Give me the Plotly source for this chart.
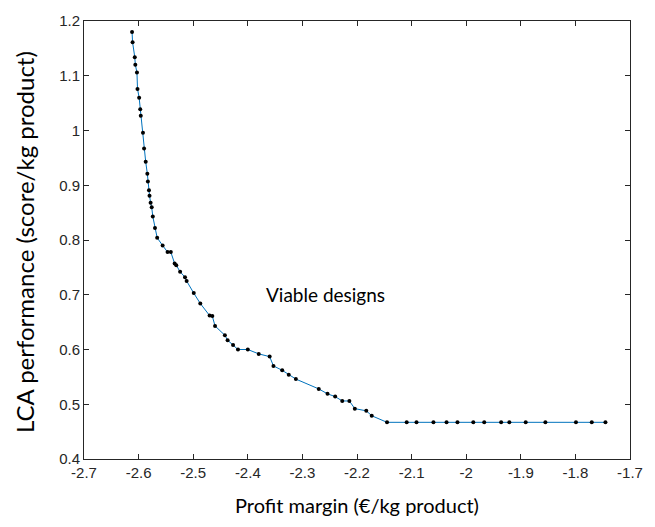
import plotly.graph_objects as go

profit_margin = [-2.612, -2.611, -2.607, -2.606, -2.603, -2.602, -2.599, -2.597, -2.596, -2.592,
                 -2.590, -2.587, -2.584, -2.583, -2.581, -2.580, -2.578, -2.576, -2.574,
                 -2.570, -2.566, -2.556, -2.547, -2.541, -2.534, -2.531, -2.524, -2.515, -2.512,
                 -2.499, -2.487, -2.470, -2.465, -2.460, -2.442, -2.437, -2.427, -2.418, -2.400,
                 -2.380, -2.360, -2.353, -2.337, -2.325, -2.312, -2.270, -2.254, -2.240, -2.227,
                 -2.214, -2.204, -2.183, -2.173,
                 -2.145, -2.109, -2.091, -2.060, -2.036, -2.016, -1.987, -1.967, -1.936, -1.921,
                 -1.891, -1.855, -1.799, -1.770, -1.745]
lca_performance = [1.180, 1.161, 1.134, 1.120, 1.106, 1.076, 1.060, 1.039, 1.027, 0.996,
                   0.967, 0.943, 0.921, 0.907, 0.891, 0.881, 0.868, 0.860, 0.843,
                   0.822, 0.804, 0.790, 0.778, 0.778, 0.757, 0.754, 0.742, 0.732, 0.725,
                   0.703, 0.684, 0.662, 0.661, 0.643, 0.626, 0.617, 0.608, 0.600, 0.600,
                   0.592, 0.587, 0.570, 0.562, 0.554, 0.546, 0.528, 0.519, 0.514, 0.506,
                   0.506, 0.492, 0.488, 0.479,
                   0.467, 0.467, 0.467, 0.467, 0.467, 0.467, 0.467, 0.467, 0.467, 0.467,
                   0.467, 0.467, 0.467, 0.467, 0.467]

x_tick_vals = [-2.7, -2.6, -2.5, -2.4, -2.3, -2.2, -2.1, -2.0, -1.9, -1.8, -1.7]
x_tick_text = ["-2.7", "-2.6", "-2.5", "-2.4", "-2.3", "-2.2", "-2.1", "-2", "-1.9", "-1.8", "-1.7"]
y_tick_vals = [0.4, 0.5, 0.6, 0.7, 0.8, 0.9, 1.0, 1.1, 1.2]
y_tick_text = ["0.4", "0.5", "0.6", "0.7", "0.8", "0.9", "1", "1.1", "1.2"]

x_title = "Profit margin (€/kg product)"
y_title = "LCA performance (score/kg product)"
label_text = "Viable designs"

fig = go.Figure()
fig.add_trace(go.Scatter(
    x=profit_margin, y=lca_performance, mode="lines+markers",
    line=dict(color="#0072BD", width=1),
    marker=dict(color="black", size=4),
    showlegend=False,
))

axis_common = dict(
    showline=True, linecolor="#262626", linewidth=1, mirror="ticks",
    ticks="inside", ticklen=5, tickcolor="#262626", showgrid=False, zeroline=False,
    tickfont=dict(family="Liberation Sans, Arial, sans-serif", size=15, color="#262626"),
)
fig.update_xaxes(range=[-2.7, -1.7], tickvals=x_tick_vals, ticktext=x_tick_text, **axis_common)
fig.update_yaxes(range=[0.4, 1.2], tickvals=y_tick_vals, ticktext=y_tick_text, **axis_common)

fig.add_annotation(x=0.5, y=0, xref="paper", yref="paper", text=x_title, showarrow=False,
                   yshift=-46, xanchor="center", yanchor="middle",
                   font=dict(family="Lato, Open Sans, sans-serif", size=20, color="black"))
fig.add_annotation(x=0, y=0.5, xref="paper", yref="paper", text=y_title, showarrow=False,
                   xshift=-60, yshift=-2, textangle=-90, xanchor="center", yanchor="middle",
                   font=dict(family="Lato, Open Sans, sans-serif", size=24, color="black"))
fig.add_annotation(x=-2.257, y=0.70, xref="x", yref="y", text=label_text, showarrow=False,
                   xanchor="center", yanchor="middle",
                   font=dict(family="Lato, Open Sans, sans-serif", size=19, color="black"))

fig.update_layout(
    width=655, height=527, margin=dict(l=84, r=16, t=21, b=68),
    paper_bgcolor="white", plot_bgcolor="white",
)
fig.write_html("out.html")
